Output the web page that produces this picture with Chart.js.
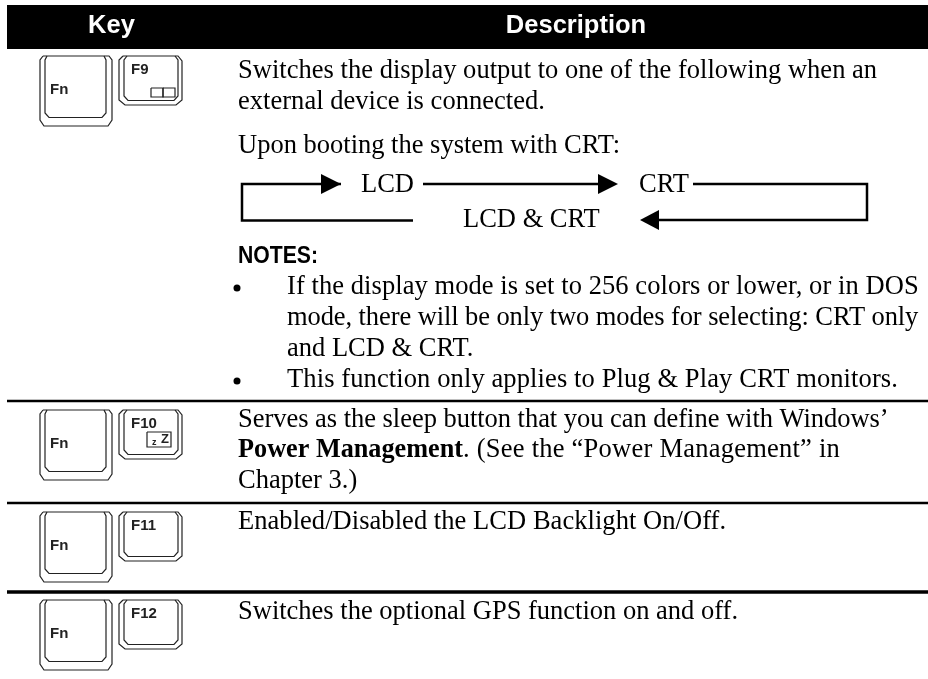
<!DOCTYPE html>
<html>
<head>
<meta charset="utf-8">
<title>Fn keys</title>
<script src="https://cdn.jsdelivr.net/npm/chart.js@4"></script>
<style>
  html, body { margin:0; padding:0; background:#fff; }
  canvas { display:block; }
</style>
</head>
<body>
<canvas id="chart" width="928" height="679"></canvas>
<script>
// table rows
const rowTops   = [56, 410, 512, 600];
const ruleYs    = [401, 503, 592];
const ruleWidth = [2.5, 2.5, 3.5];
const headX     = [7, 928, 928, 7, 7];
const headY     = [5, 5, 49, 49, 5];

// key outlines, y relative to the row top
const fnOuterX = [43, 40, 40, 44, 108, 112, 112, 109, 43];
const fnOuterY = [0, 4, 64, 70, 70, 64, 4, 0, 0];
const fnInnerX = [47, 45, 45, 49, 102, 106, 106, 104];
const fnInnerY = [0, 4, 57, 61.5, 61.5, 57, 4, 0];
const fkOuterX = [123, 119, 119, 125, 176, 182, 182, 178, 123];
const fkOuterY = [0, 4, 44, 49, 49, 44, 5, 0, 0];
const fkInnerX = [127, 124, 124, 128, 174, 178, 178, 175];
const fkInnerY = [0, 4, 40, 44.5, 44.5, 40, 4, 0];

// little icons on F9 and F10
const f9BoxAX = [151, 163, 163, 151, 151];
const f9BoxBX = [163, 175, 175, 163, 163];
const f9BoxY  = [32, 32, 41, 41, 32];
const f10BoxX = [147, 171, 171, 147, 147];
const f10BoxY = [22, 22, 37, 37, 22];

// the CRT/LCD flow arrows
const loopTopX    = [341, 242, 242, 413];
const loopTopY    = [184, 184, 220.5, 220.5];
const midLineX    = [423, 600];
const midLineY    = [184, 184];
const loopRightX  = [693, 867, 867, 655];
const loopRightY  = [184, 184, 220, 220];
const arrow1X     = [321, 341, 321, 321];
const arrow1Y     = [174, 184, 194, 174];
const arrow2X     = [598, 618, 598, 598];
const arrow2Y     = [174, 184, 194, 174];
const arrow3X     = [659, 640, 659, 659];
const arrow3Y     = [210, 220, 230, 210];
const bulletX     = [237, 237];
const bulletY     = [288, 381];

// body text
const bodyLines = [
  'Switches the display output to one of the following when an',
  'external device is connected.',
  'Upon booting the system with CRT:',
  'LCD', 'CRT', 'LCD & CRT',
  'If the display mode is set to 256 colors or lower, or in DOS',
  'mode, there will be only two modes for selecting: CRT only',
  'and LCD & CRT.',
  'This function only applies to Plug & Play CRT monitors.',
  'Serves as the sleep button that you can define with Windows’',
  'Chapter 3.)',
  'Enabled/Disabled the LCD Backlight On/Off.',
  'Switches the optional GPS function on and off.'
];
const bodyX = [238, 238, 238, 361, 639, 463, 287, 287, 287, 287, 238, 238, 238, 238];
const bodyY = [78, 109, 153, 192, 192, 227, 294, 325, 356, 387, 427, 488, 529, 619];
// tracking per line, the scan is not set evenly
const bodyTrack = [0.03, 0.03, 0, 0, 0, 0, 0.07, -0.09, 0, 0.11, -0.03, 0, 0.05, 0];

const keyLabels = ['F9', 'F10', 'F11', 'F12'];

function path(xs, ys, dy) {
  return xs.map((x, i) => ({ x: x, y: ys[i] + (dy || 0) }));
}
function stroke(points, width, color) {
  return { data: points, showLine: true, borderColor: color || '#000', borderWidth: width,
           pointRadius: 0, fill: false, tension: 0 };
}
function solid(points) {
  return { data: points, showLine: true, borderColor: '#000', backgroundColor: '#000', borderWidth: 0,
           pointRadius: 0, fill: 'shape', tension: 0 };
}

const datasets = [
  solid(path(headX, headY)),
  solid(path(arrow1X, arrow1Y)),
  solid(path(arrow2X, arrow2Y)),
  solid(path(arrow3X, arrow3Y)),
  stroke(path(loopTopX, loopTopY), 2.5),
  stroke(path(midLineX, midLineY), 2.5),
  stroke(path(loopRightX, loopRightY), 2.5),
  { data: path(bulletX, bulletY), showLine: false, pointRadius: 3.5, backgroundColor: '#000', borderWidth: 0 }
];
ruleYs.forEach((y, i) => datasets.push(stroke([{ x: 7, y: y }, { x: 928, y: y }], ruleWidth[i])));
rowTops.forEach(top => {
  datasets.push(stroke(path(fnOuterX, fnOuterY, top), 1.2, '#222'));
  datasets.push(stroke(path(fnInnerX, fnInnerY, top), 1.2, '#222'));
  datasets.push(stroke(path(fkOuterX, fkOuterY, top), 1.2, '#222'));
  datasets.push(stroke(path(fkInnerX, fkInnerY, top), 1.2, '#222'));
});
datasets.push(stroke(path(f9BoxAX, f9BoxY, rowTops[0]), 1.2, '#222'));
datasets.push(stroke(path(f9BoxBX, f9BoxY, rowTops[0]), 1.2, '#222'));
datasets.push(stroke(path(f10BoxX, f10BoxY, rowTops[1]), 1.2, '#222'));

const SERIF = '"Liberation Serif", serif';
const SANS  = '"Liberation Sans", sans-serif';
const BODY_SIZE = 26.5;

const tableText = {
  id: 'tableText',
  afterDatasetsDraw(chart) {
    const { ctx, scales } = chart;
    const put = (txt, x, y, font, color, align, maxW, track) => {
      ctx.font = font;
      ctx.fillStyle = color || '#000';
      ctx.textAlign = align || 'left';
      ctx.letterSpacing = (track || 0) + 'px';
      const px = scales.x.getPixelForValue(x), py = scales.y.getPixelForValue(y);
      if (maxW) ctx.fillText(txt, px, py, maxW); else ctx.fillText(txt, px, py);
    };
    ctx.save();
    ctx.textBaseline = 'alphabetic';

    put('Key', 111.5, 33, 'bold 25.5px ' + SANS, '#fff', 'center');
    put('Description', 576, 33, 'bold 25.5px ' + SANS, '#fff', 'center');

    bodyLines.forEach((l, i) => put(l, bodyX[i], bodyY[i], BODY_SIZE + 'px ' + SERIF, '#000', 'left', 0, bodyTrack[i]));
    put('NOTES:', 238, 263, 'bold 24px ' + SANS, '#000', 'left', 80);

    // line with the bold run in it
    put('Power Management', 238, 457, 'bold ' + BODY_SIZE + 'px ' + SERIF, '#000', 'left', 225);
    put('. (See the “Power Management” in', 463, 457, BODY_SIZE + 'px ' + SERIF, '#000', 'left', 0, 0.24);

    rowTops.forEach((top, i) => {
      put('Fn', 50, top + 38, 'bold 15px ' + SANS, '#222');
      put(keyLabels[i], 131, top + 18, 'bold 15px ' + SANS, '#222');
    });
    put('z', 152, rowTops[1] + 35, 'bold 9px ' + SANS, '#222');
    put('Z', 161, rowTops[1] + 33, 'bold 13px ' + SANS, '#222');
    ctx.restore();
  }
};

new Chart(document.getElementById('chart'), {
  type: 'scatter',
  data: { datasets: datasets },
  plugins: [tableText],
  options: {
    responsive: false,
    animation: false,
    layout: { padding: 0, autoPadding: false },
    plugins: { legend: { display: false }, tooltip: { enabled: false } },
    scales: {
      x: { type: 'linear', min: 0, max: 928, display: false },
      y: { type: 'linear', min: 0, max: 679, reverse: true, display: false }
    }
  }
});
</script>
</body>
</html>
